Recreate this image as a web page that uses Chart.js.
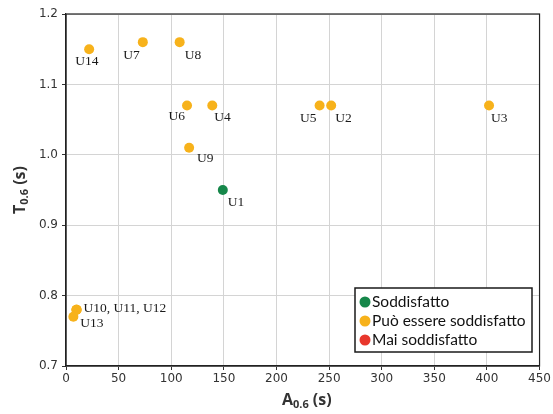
<!DOCTYPE html>
<html>
<head>
<meta charset="utf-8">
<script src="https://cdn.jsdelivr.net/npm/chart.js@4.4.1/dist/chart.umd.min.js"></script>
<style>
  html, body { margin: 0; padding: 0; background: #fff; }
  #wrap { width: 553px; height: 414px; position: relative; }
</style>
</head>
<body>
<div id="wrap"><canvas id="c"></canvas></div>
<script>
// Units, their A0.6 / T0.6 values and satisfaction status
const units = ['U1', 'U2', 'U3', 'U4', 'U5', 'U6', 'U7', 'U8', 'U9', 'U10', 'U11', 'U12', 'U13', 'U14'];
const aValues = [149, 252, 402, 139, 241, 115, 73, 108, 117, 10, 10, 10, 7, 22];
const tValues = [0.95, 1.07, 1.07, 1.07, 1.07, 1.07, 1.16, 1.16, 1.01, 0.78, 0.78, 0.78, 0.77, 1.15];
const unitStatus = [0, 1, 1, 1, 1, 1, 1, 1, 1, 1, 1, 1, 1, 1];
// Text written next to each point (overlapping units share one label)
const pointLabels = ['U1', 'U2', 'U3', 'U4', 'U5', 'U6', 'U7', 'U8', 'U9', 'U10, U11, U12', '', '', 'U13', 'U14'];

const categories = ['Soddisfatto', 'Può essere soddisfatto', 'Mai soddisfatto'];
const categoryColors = ['#16874a', '#f7b21b', '#e8372c'];

const xTicks = [0, 50, 100, 150, 200, 250, 300, 350, 400, 450];
const yTicks = [0.7, 0.8, 0.9, 1.0, 1.1, 1.2];

// Label placement: [dx, dy, textAlign] relative to the point centre
const labelPlacement = {
  'U1': [5, 12, 'left'], 'U2': [4, 13, 'left'], 'U3': [2, 13, 'left'],
  'U4': [2, 12, 'left'], 'U5': [-3, 13, 'right'], 'U6': [-2, 11, 'right'],
  'U7': [-3, 13, 'right'], 'U8': [5, 13, 'left'], 'U9': [8, 11, 'left'],
  'U10': [7, -1, 'left'], 'U13': [7, 7, 'left'], 'U14': [-14, 12, 'left']
};

const datasets = categories.map((name, ci) => ({
  label: name,
  data: units.map((u, i) => ({ x: aValues[i], y: tValues[i], name: u, text: pointLabels[i], s: unitStatus[i] }))
              .filter(p => p.s === ci),
  backgroundColor: categoryColors[ci],
  borderColor: categoryColors[ci],
  pointRadius: 5,
  pointHoverRadius: 5,
  borderWidth: 0
}));

const decorations = {
  id: 'decorations',
  afterDatasetsDraw(chart) {
    const ctx = chart.ctx;
    const area = chart.chartArea;
    ctx.save();
    // frame around the plot
    ctx.strokeStyle = '#222';
    ctx.lineWidth = 1.2;
    ctx.strokeRect(area.left, area.top, area.right - area.left, area.bottom - area.top);

    // point labels
    ctx.fillStyle = '#1a1a1a';
    ctx.font = '13.5px "Liberation Serif", "DejaVu Serif", serif';
    ctx.textBaseline = 'middle';
    chart.data.datasets.forEach((ds, di) => {
      const meta = chart.getDatasetMeta(di);
      ds.data.forEach((p, j) => {
        if (!p.text) return;
        const el = meta.data[j];
        const pl = labelPlacement[p.name] || [5, 12, 'left'];
        ctx.textAlign = pl[2];
        ctx.fillText(p.text, el.x + pl[0], el.y + pl[1]);
      });
    });

    // axis titles with subscript
    const drawTitle = (main, sub, tail, cx, cy, rot) => {
      ctx.save();
      ctx.translate(cx, cy);
      ctx.rotate(rot);
      ctx.fillStyle = '#333';
      ctx.textBaseline = 'alphabetic';
      ctx.textAlign = 'left';
      const big = 'bold 16px "Open Sans", "Liberation Sans", sans-serif';
      const small = 'bold 11px "Open Sans", "Liberation Sans", sans-serif';
      ctx.font = big; const w1 = ctx.measureText(main).width;
      ctx.font = small; const w2 = ctx.measureText(sub).width;
      ctx.font = big; const w3 = ctx.measureText(tail).width;
      let x = -(w1 + w2 + w3) / 2;
      ctx.font = big; ctx.fillText(main, x, 5); x += w1;
      ctx.font = small; ctx.fillText(sub, x, 8); x += w2;
      ctx.font = big; ctx.fillText(tail, x, 5);
      ctx.restore();
    };
    drawTitle('A', '0.6', ' (s)', (area.left + area.right) / 2 + 4, 400, 0);
    drawTitle('T', '0.6', ' (s)', 20, (area.top + area.bottom) / 2, -Math.PI / 2);

    // legend box
    const lx = 355, ly = 288, lw = 177, lh = 64;
    ctx.fillStyle = '#fff';
    ctx.fillRect(lx, ly, lw, lh);
    ctx.strokeStyle = '#1a1a1a';
    ctx.lineWidth = 1.5;
    ctx.strokeRect(lx, ly, lw, lh);
    ctx.font = '15.5px Lato, "Open Sans", sans-serif';
    ctx.textAlign = 'left';
    ctx.textBaseline = 'middle';
    chart.data.datasets.forEach((ds, i) => {
      const y = ly + 14 + i * 19;
      ctx.fillStyle = ds.backgroundColor;
      ctx.beginPath();
      ctx.arc(lx + 10, y, 5.5, 0, Math.PI * 2);
      ctx.fill();
      ctx.fillStyle = '#111';
      ctx.fillText(ds.label, lx + 17, y);
    });
    ctx.restore();
  }
};

new Chart(document.getElementById('c'), {
  type: 'scatter',
  data: { datasets },
  options: {
    responsive: true,
    maintainAspectRatio: false,
    animation: false,
    layout: { padding: { top: 14, right: 13, left: 0, bottom: 0 } },
    plugins: { legend: { display: false }, tooltip: { enabled: false } },
    scales: {
      x: {
        type: 'linear',
        min: 0, max: 450,
        afterBuildTicks: s => { s.ticks = xTicks.map(v => ({ value: v })); },
        afterFit: s => { s.height = 48; },
        ticks: { color: '#333', font: { family: '"DejaVu Sans", sans-serif', size: 12 }, padding: 2 },
        grid: { color: '#d4d4d4', tickColor: '#333', tickLength: 4 },
        border: { color: '#222', width: 1.2 }
      },
      y: {
        type: 'linear',
        min: 0.7, max: 1.2,
        afterBuildTicks: s => { s.ticks = yTicks.map(v => ({ value: v })); },
        afterFit: s => { s.width = 66; },
        ticks: { color: '#333', font: { family: '"DejaVu Sans", sans-serif', size: 12 }, padding: 4,
                 callback: v => Number(v).toFixed(1) },
        grid: { color: '#d4d4d4', tickColor: '#333', tickLength: 4 },
        border: { color: '#222', width: 1.2 }
      }
    }
  },
  plugins: [decorations]
});
</script>
</body>
</html>
